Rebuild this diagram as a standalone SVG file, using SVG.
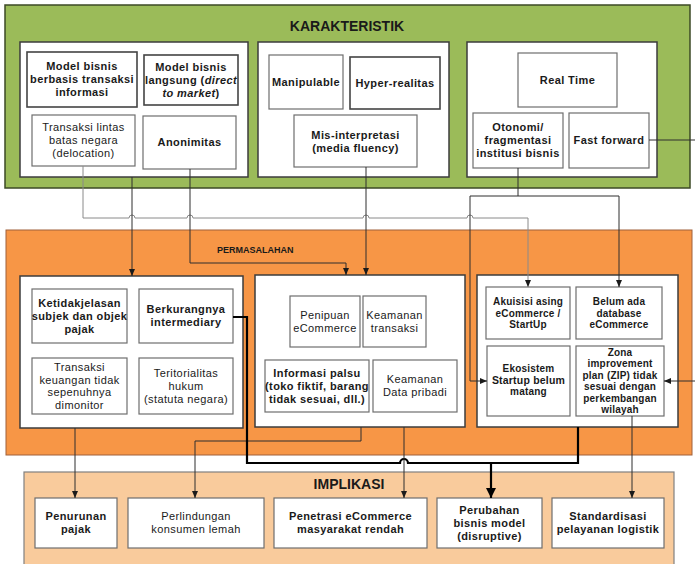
<svg xmlns="http://www.w3.org/2000/svg" width="695" height="564" viewBox="0 0 695 564">
<style>
.t{font-family:"Liberation Sans",Arial,sans-serif;font-size:11px;font-weight:bold;fill:#1a1a1a;text-anchor:middle;letter-spacing:0.4px}
.n{font-weight:normal}
.s{font-size:10px;letter-spacing:0.2px}
.h{font-family:"Liberation Sans",Arial,sans-serif;font-weight:bold;fill:#1a1a1a}
.box{fill:#fff;stroke:#6e6e6e;stroke-width:1.2}
.boxd{fill:#fff;stroke:#444;stroke-width:1.6}
.panel{fill:#fff;stroke:#3c3c3c;stroke-width:1.5}
.ln{fill:none;stroke:#2e2e2e;stroke-width:1}
.lg{stroke:#8a8a8a}
.lb{stroke:#000;stroke-width:2.2}
</style>
<defs>
<marker id="ah" markerWidth="8" markerHeight="8" refX="7" refY="4" orient="auto" markerUnits="userSpaceOnUse"><path d="M0,1 L7,4 L0,7 z" fill="#1a1a1a"/></marker>
<marker id="ahb" markerWidth="12" markerHeight="12" refX="10" refY="6" orient="auto" markerUnits="userSpaceOnUse"><path d="M0,1 L10,6 L0,11 z" fill="#000"/></marker>
</defs>

<g id="karakteristik">
<rect x="5" y="5" width="685" height="183" fill="#9BBB59" stroke="#3d4a26" stroke-width="1.5"/>
<text class="h" x="347" y="31" font-size="14" text-anchor="middle">KARAKTERISTIK</text>
<rect class="panel" x="20" y="42" width="228" height="135"/>
<rect class="panel" x="258" y="42" width="191" height="135"/>
<rect class="panel" x="467" y="42" width="190" height="135"/>
</g>

<g id="permasalahan">
<rect x="6" y="230" width="686" height="225" fill="#F79646" stroke="#a0603a" stroke-width="1"/>
<text class="h" x="217" y="252.5" font-size="9">PERMASALAHAN</text>
<rect class="panel" x="20" y="276" width="223" height="152"/>
<rect class="panel" x="255" y="275" width="210" height="152"/>
<rect class="panel" x="477" y="275" width="201" height="152"/>
</g>

<g id="implikasi">
<rect x="24" y="472" width="650" height="100" fill="#F9CB9C" stroke="#808080" stroke-width="1.2"/>
<text class="h" x="349" y="489" font-size="14" text-anchor="middle">IMPLIKASI</text>
</g>

<g id="n-model-informasi"><rect class="boxd" x="27" y="52" width="110" height="55"/>
<text class="t"><tspan x="82" y="70">Model bisnis</tspan><tspan x="82" y="83">berbasis transaksi</tspan><tspan x="82" y="96">informasi</tspan></text></g>
<g id="n-model-langsung"><rect class="boxd" x="144" y="55" width="94" height="50"/>
<text class="t" letter-spacing="0.2"><tspan x="191" y="71">Model bisnis</tspan><tspan x="191" y="84">langsung (<tspan font-style="italic">direct</tspan></tspan><tspan x="191" y="97"><tspan font-style="italic">to market</tspan>)</tspan></text></g>
<g id="n-transaksi-lintas"><rect class="box" x="32" y="115" width="103" height="51"/>
<text class="t n"><tspan x="83.5" y="131">Transaksi lintas</tspan><tspan x="83.5" y="144">batas negara</tspan><tspan x="83.5" y="157">(delocation)</tspan></text></g>
<g id="n-anonimitas"><rect class="box" x="143" y="116" width="93" height="53"/>
<text class="t" x="189.5" y="146">Anonimitas</text></g>

<g id="n-manipulable"><rect class="box" x="269" y="55" width="74" height="54"/>
<text class="t" x="306" y="86" letter-spacing="0">Manipulable</text></g>
<g id="n-hyper"><rect class="boxd" x="350" y="57" width="90" height="52"/>
<text class="t" x="395" y="87">Hyper-realitas</text></g>
<g id="n-mis"><rect class="box" x="294" y="115" width="123" height="52"/>
<text class="t"><tspan x="355.5" y="138.5">Mis-interpretasi</tspan><tspan x="355.5" y="151.5">(media fluency)</tspan></text></g>

<g id="n-realtime"><rect class="box" x="518" y="53" width="99" height="54"/>
<text class="t" x="567.5" y="84">Real Time</text></g>
<g id="n-otonomi"><rect class="box" x="473" y="113" width="90" height="55"/>
<text class="t"><tspan x="518" y="131">Otonomi/</tspan><tspan x="518" y="144">fragmentasi</tspan><tspan x="518" y="157">institusi bisnis</tspan></text></g>
<g id="n-fastforward"><rect class="box" x="569" y="113" width="80" height="55"/>
<text class="t" x="609" y="144">Fast forward</text></g>

<g id="n-ketidakjelasan"><rect class="box" x="32" y="289" width="95" height="54"/>
<text class="t" letter-spacing="0.1"><tspan x="79.5" y="307">Ketidakjelasan</tspan><tspan x="79.5" y="320">subjek dan objek</tspan><tspan x="79.5" y="333">pajak</tspan></text></g>
<g id="n-berkurangnya"><rect class="box" x="139" y="289" width="94" height="54"/>
<text class="t" letter-spacing="0.1"><tspan x="186" y="313">Berkurangnya</tspan><tspan x="186" y="326">intermediary</tspan></text></g>
<g id="n-transaksi-keuangan"><rect class="box" x="32" y="358" width="95" height="56"/>
<text class="t n"><tspan x="79.5" y="371">Transaksi</tspan><tspan x="79.5" y="383.5">keuangan tidak</tspan><tspan x="79.5" y="396">sepenuhnya</tspan><tspan x="79.5" y="408.5">dimonitor</tspan></text></g>
<g id="n-teritorialitas"><rect class="box" x="139" y="358" width="94" height="56"/>
<text class="t n"><tspan x="186" y="377">Teritorialitas</tspan><tspan x="186" y="390">hukum</tspan><tspan x="186" y="403">(statuta negara)</tspan></text></g>

<g id="n-penipuan"><rect class="box" x="290" y="296" width="70" height="51"/>
<text class="t n"><tspan x="325" y="319">Penipuan</tspan><tspan x="325" y="332">eCommerce</tspan></text></g>
<g id="n-keamanan-transaksi"><rect class="box" x="363" y="296" width="63" height="51"/>
<text class="t n"><tspan x="394.5" y="319">Keamanan</tspan><tspan x="394.5" y="332">transaksi</tspan></text></g>
<g id="n-informasi-palsu"><rect class="box" x="265" y="360" width="104" height="52"/>
<text class="t" font-size="10" letter-spacing="0.1"><tspan x="317" y="377">Informasi palsu</tspan><tspan x="317" y="390">(toko fiktif, barang</tspan><tspan x="317" y="403">tidak sesuai, dll.)</tspan></text></g>
<g id="n-keamanan-data"><rect class="box" x="373" y="360" width="84" height="52"/>
<text class="t n"><tspan x="415" y="383">Keamanan</tspan><tspan x="415" y="396">Data pribadi</tspan></text></g>

<g id="n-akuisisi"><rect class="box" x="486" y="287" width="84" height="52"/>
<text class="t s"><tspan x="528" y="305">Akuisisi asing</tspan><tspan x="528" y="316.5">eCommerce /</tspan><tspan x="528" y="328">StartUp</tspan></text></g>
<g id="n-belum-ada"><rect class="box" x="576" y="287" width="86" height="52"/>
<text class="t s"><tspan x="619" y="305">Belum ada</tspan><tspan x="619" y="316.5">database</tspan><tspan x="619" y="328">eCommerce</tspan></text></g>
<g id="n-ekosistem"><rect class="box" x="487" y="346" width="83" height="70"/>
<text class="t s"><tspan x="528.5" y="371.5">Ekosistem</tspan><tspan x="528.5" y="383.5" font-size="10.5">Startup belum</tspan><tspan x="528.5" y="395">matang</tspan></text></g>
<g id="n-zona"><rect class="box" x="576" y="346" width="88" height="70"/>
<text class="t s"><tspan x="620" y="355.5">Zona</tspan><tspan x="620" y="367">improvement</tspan><tspan x="620" y="378.5">plan (ZIP) tidak</tspan><tspan x="620" y="390">sesuai dengan</tspan><tspan x="620" y="401.5">perkembangan</tspan><tspan x="620" y="413">wilayah</tspan></text></g>

<g id="n-penurunan"><rect class="box" x="35" y="498" width="82" height="50"/>
<text class="t"><tspan x="76" y="520">Penurunan</tspan><tspan x="76" y="533">pajak</tspan></text></g>
<g id="n-perlindungan"><rect class="box" x="128" y="498" width="136" height="50"/>
<text class="t n" font-size="11.5" letter-spacing="0.6"><tspan x="196" y="520">Perlindungan</tspan><tspan x="196" y="533">konsumen lemah</tspan></text></g>
<g id="n-penetrasi"><rect class="box" x="274" y="498" width="153" height="50"/>
<text class="t"><tspan x="350.5" y="520">Penetrasi eCommerce</tspan><tspan x="350.5" y="533">masyarakat rendah</tspan></text></g>
<g id="n-perubahan"><rect class="box" x="437" y="498" width="105" height="50"/>
<text class="t"><tspan x="489.5" y="514">Perubahan</tspan><tspan x="489.5" y="527">bisnis model</tspan><tspan x="489.5" y="540">(disruptive)</tspan></text></g>
<g id="n-standardisasi"><rect class="box" x="552" y="498" width="112" height="50"/>
<text class="t"><tspan x="608" y="520">Standardisasi</tspan><tspan x="608" y="533">pelayanan logistik</tspan></text></g>

<g id="connectors">
<path class="ln lg" d="M83,166 V218 H129 a3,3 0 0 1 6,0 H187 a3,3 0 0 1 6,0 H363 a3,3 0 0 1 6,0 H467 a3,3 0 0 1 6,0 H528 V287" marker-end="url(#ah)"/>
<path class="ln" d="M132,177 V276" marker-end="url(#ah)"/>
<path class="ln" stroke="#3a2414" d="M190,169 V263 H346 V275" marker-end="url(#ah)"/>
<path class="ln" d="M366,167 V275" marker-end="url(#ah)"/>
<path class="ln" d="M518,168 V196"/>
<path class="ln" d="M470,196 H619"/>
<path class="ln" d="M470,196 V381 H487" marker-end="url(#ah)"/>
<path class="ln" stroke="#000" stroke-width="1.6" d="M619,196 V287" marker-end="url(#ah)"/>
<path class="ln" d="M649,140 H695"/>
<path class="ln" d="M695,381 H664" marker-end="url(#ah)"/>
<path class="ln" stroke="#3a2414" d="M75,428 V498" marker-end="url(#ah)"/>
<path class="ln" stroke="#3a2414" d="M361,427 V441 H195 V498" marker-end="url(#ah)"/>
<path class="ln lb" d="M233,317 H247 V463 H400 a4,4 0 0 1 8,0 H578 V427"/>
<path class="ln lb" d="M491,463 V498" marker-end="url(#ahb)"/>
<path class="ln" stroke="#111" stroke-width="1.3" d="M404,427 V498" marker-end="url(#ah)"/>
<path class="ln" stroke="#5a3a22" d="M632,416 V498" marker-end="url(#ah)"/>
</g>
</svg>
